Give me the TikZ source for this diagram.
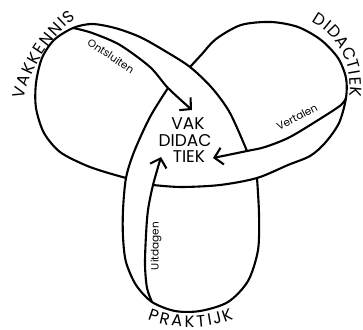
\documentclass[tikz,border=0pt]{standalone}
\usepackage{fontspec}
\newfontfamily\popp{Poppins}
\usetikzlibrary{arrows.meta}
\begin{document}
\begin{tikzpicture}[x=1pt,y=-1pt,
  strand/.style={line width=2.1pt, line join=round},
  arrowline/.style={strand, -{Straight Barb[length=8pt,width=17pt]}},
  biglab/.style={font=\popp\fontsize{17}{17}\selectfont, inner sep=0pt},
  letter/.style={font=\popp\fontsize{16.5}{16.5}\selectfont, inner sep=0pt},
  smalllab/.style={font=\popp\fontsize{10.5}{10.5}\selectfont, inner sep=0pt}]
\useasboundingbox (0,0) rectangle (363,329);
% outline pieces
\draw[strand] plot[smooth] coordinates {(190,67) (202,54) (216,39) (241,25) (271,22) (298,27) (321,40) (338,58) (346,78) (346,98) (339,123) (325,143) (310,156) (288,165) (257,178) (220,185) (181,187) (153,185)};
\draw[strand] plot[smooth] coordinates {(126,178) (105,172) (85,165) (60,152) (44,133) (36,108) (36,83) (42,58) (54,40) (73,28) (92,24) (115,28) (140,37) (165,51) (190,67) (212,88) (230,113) (247,151)};
\draw[strand] plot[smooth] coordinates {(257,178) (259,214) (258,250) (248,281) (228,302) (200,311) (175,311) (152,302) (136,285) (126,262) (123,237) (123,210) (126,178) (134,152) (150,117) (168,88)};
% arrows
\draw[arrowline] plot[smooth] coordinates {(73,28) (82,30) (95,34) (120,45) (150,67) (168,88) (192,110)};
\draw[arrowline] plot[smooth] coordinates {(346,98) (341,105) (323,117) (290,137) (265,147) (247,151) (213,158)};
\draw[arrowline] plot[smooth] coordinates {(152,302) (147,288) (145,265) (146,235) (148,210) (153,185) (161,157)};
% centre text
\node[biglab] (vak) at (188,124) {VAK};
\node[biglab] (didac) at (185,140.5) {DIDAC};
\node[biglab] (tiek) at (189,157) {TIEK};
% small labels
\node[smalllab, rotate=-34] (ont) at (111,56) {Ontsluiten};
\node[smalllab, rotate=27] (ver) at (297,117) {Vertalen};
\node[smalllab, rotate=90] (uit) at (156,246) {Uitdagen};
% curved labels, letter by letter
\foreach \l/\x/\y/\r [count=\i] in {V/19.3/93.1/74.8, A/23.3/80.5/69.8, K/28.2/68.8/65, K/33.7/58.2/60.5, E/39.5/48.7/56.3, N/46.6/39.0/51.8, N/55.2/29.0/46.8, I/62.0/22.2/43.2, S/68.3/16.6/40}
  \node[letter, rotate=\r] (vk\i) at (\x,\y) {\l};
\foreach \l/\x/\y/\r [count=\i] in {D/319.8/20.2/-32, I/327.6/25.7/-39.1, D/334.6/32.2/-46.2, A/342.8/42.3/-55.9, C/349.0/53.4/-65.4, T/353.1/64.5/-74.2, I/354.9/72.8/-80.5, E/355.9/81.1/-86.7, K/355.7/92.2/-95}
  \node[letter, rotate=\r] (dd\i) at (\x,\y) {\l};
\foreach \l/\x/\y/\r [count=\i] in {P/153.8/315.6/-18.5, R/164.9/318.7/-12.7, A/177.1/320.8/-6.5, K/189.6/321.5/-0.2, T/201.1/321.0/5.6, I/209.6/319.8/9.9, J/217.0/318.3/13.7, K/227.2/315.3/19}
  \node[letter, rotate=\r] (pk\i) at (\x,\y) {\l};
\end{tikzpicture}
\end{document}
